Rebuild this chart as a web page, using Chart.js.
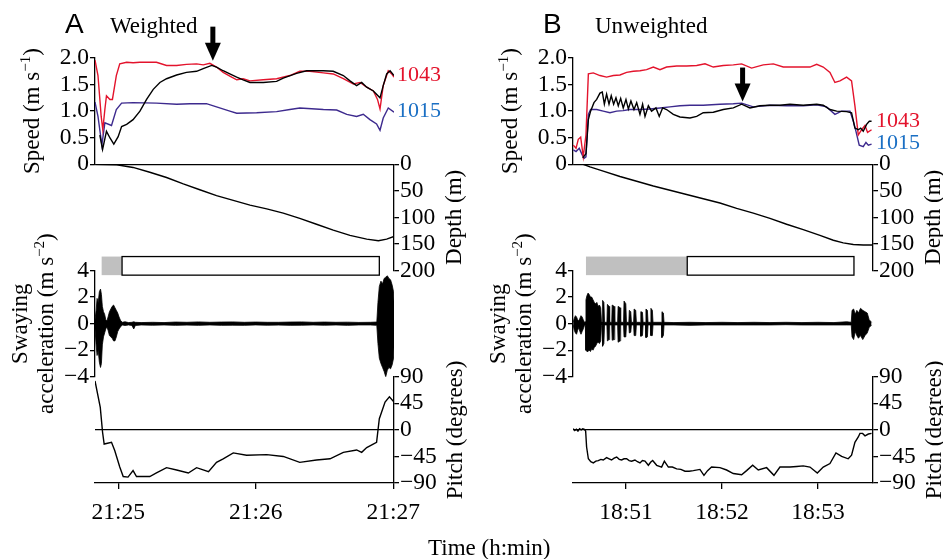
<!DOCTYPE html>
<html>
<head>
<meta charset="utf-8">
<script src="https://cdn.jsdelivr.net/npm/chart.js@4.4.1/dist/chart.umd.min.js"></script>
<style>
    html, body { margin: 0; padding: 0; background: #fff; }
    #wrap { position: relative; width: 943px; height: 559px; overflow: hidden; }
    #chartA { position: absolute; left: 0; top: 0; }
    #chartB { position: absolute; left: 471px; top: 0; }
    #xtitle { position: absolute; left: 428px; top: 535px; font: 23px 'Liberation Serif', 'DejaVu Serif', serif; line-height: 26px; }
</style>
</head>
<body>
<div id="wrap">
    <canvas id="chartA" width="471" height="559"></canvas>
    <canvas id="chartB" width="472" height="559"></canvas>
    <div id="xtitle">Time (h:min)</div>
</div>
<script>
/**
 * Speed, depth, swaying acceleration and pitch of a weighted and an
 * unweighted dive. Times are seconds from 21:25:00 (A) and 18:51:00 (B).
 */

// ---- shared tick values ----
const speedTicks = [0, 0.5, 1, 1.5, 2];
const depthTicks = [0, 50, 100, 150, 200];
const swayTicks = [-4, -2, 0, 2, 4];
const pitchTicks = [-90, -45, 0, 45, 90];
const timeTicks = [0, 60, 120];
const seriesNames = ['1043', '1015'];

// ---- A: weighted ----
const tBlackA = [-8.0, -6.8, -5.1, -3.5, -1.9, 0, 1.5, 3.7, 6.5, 9.5,
    12.4, 15.3, 18.2, 21.1, 25.5, 29.8, 34.2, 37.1, 40.8, 42.9,
    45.8, 48.7, 51.7, 54.5, 57.5, 63.3, 69.1, 72.0, 77.8, 82.2,
    89.5, 93.8, 98.2, 101.1, 104.0, 106.2, 108.4, 111.3, 114.2, 115.6,
    117.1, 118.6, 120.3];
const speedBlackA = [0.55, 0.28, 0.62, 0.49, 0.38, 0.52, 0.71, 0.75, 0.84, 1.00,
    1.22, 1.41, 1.54, 1.61, 1.68, 1.73, 1.75, 1.80, 1.86, 1.83,
    1.76, 1.70, 1.64, 1.59, 1.54, 1.54, 1.56, 1.62, 1.71, 1.76,
    1.76, 1.75, 1.67, 1.57, 1.48, 1.54, 1.45, 1.38, 1.25, 1.48,
    1.70, 1.76, 1.67];

const tRedA = [-10.1, -8.8, -7.4, -6.7, -5.8, -5.1, -3.6, -2.5, -0.8, 0.7,
    3.7, 6.5, 9.5, 12.4, 16.7, 21.1, 25.5, 29.8, 34.2, 37.1,
    40.0, 42.9, 45.8, 48.7, 51.7, 54.5, 57.5, 63.3, 69.1, 74.9,
    79.2, 83.6, 89.5, 93.8, 98.2, 102.6, 105.5, 108.4, 111.3, 113.1,
    114.2, 115.6, 117.8, 119.3, 120.3];
const speedRedA = [1.96, 1.67, 0.90, 0.65, 1.03, 1.29, 1.22, 1.22, 1.67, 1.89,
    1.92, 1.91, 1.92, 1.92, 1.92, 1.86, 1.86, 1.88, 1.89, 1.87,
    1.90, 1.83, 1.73, 1.66, 1.59, 1.61, 1.57, 1.59, 1.61, 1.67,
    1.75, 1.75, 1.72, 1.70, 1.61, 1.51, 1.54, 1.45, 1.38, 1.22,
    1.04, 1.48, 1.76, 1.70, 1.64];

const tBlueA = [-10.1, -8.8, -7.1, -5.8, -2.9, -0.8, 1.5, 6.5, 16.7, 25.5,
    31.3, 38.5, 42.9, 48.7, 51.7, 60.4, 69.1, 74.9, 79.2, 89.5,
    95.3, 99.7, 104.0, 106.9, 109.8, 112.7, 114.2, 115.6, 117.8, 120.3];
const speedBlueA = [1.17, 0.90, 0.36, 0.78, 0.73, 1.03, 1.15, 1.16, 1.15, 1.13,
    1.14, 1.14, 1.08, 1.00, 0.96, 0.97, 0.99, 1.03, 1.06, 1.03,
    1.02, 0.94, 0.90, 0.94, 0.84, 0.76, 0.64, 0.87, 1.06, 0.98];

const tDepthA = [-10.1, -0.6, 6.5, 13.8, 21.1, 28.4, 35.6, 42.9, 50.2, 57.5,
    64.8, 72.0, 79.2, 86.5, 93.8, 101.1, 108.4, 113.5, 117.1, 120.3];
const depthA = [0, 1, 6, 15, 25, 37, 48, 59, 68, 77,
    84, 92, 102, 113, 124, 134, 141, 144, 141, 136];

// swaying acceleration, upper and lower envelope
const tSwayA = [-10.1, -9.6, -9.2, -8.7, -8.2, -7.7, -7.3, -6.9, -6.4, -5.9,
    -5.4, -4.9, -4.4, -3.8, -3.2, -2.6, -2.0, -1.4, -0.8, -0.2,
    0.4, 1.0, 1.8, 3.0, 4.5, 6.0, 6.8, 7.5, 10, 15,
    20, 25, 30, 35, 40, 45, 50, 55, 60, 65,
    70, 75, 80, 85, 90, 95, 100, 105, 110, 112.8,
    113.3, 113.9, 114.6, 115.3, 116.0, 116.7, 117.4, 118.1, 118.8, 119.5,
    120.1, 120.5];
const swayMaxA = [0.3, 1.0, 1.9, 1.6, 2.4, 2.6, 2.2, 1.3, 0.9, 0.7,
    0.3, 0.2, 0.5, 0.9, 1.1, 1.3, 1.4, 1.2, 1.0, 0.8,
    0.5, 0.25, 0.1, 0.14, 0.08, 0.1, 0.14, 0.1, 0.08, 0.1,
    0.08, 0.12, 0.1, 0.13, 0.1, 0.12, 0.13, 0.1, 0.12, 0.1,
    0.1, 0.12, 0.13, 0.1, 0.12, 0.1, 0.11, 0.09, 0.1, 0.12,
    1.6, 2.8, 3.2, 3.0, 3.4, 3.5, 3.6, 3.4, 3.3, 2.9,
    2.4, 1.0];
const swayMinA = [-0.4, -1.6, -2.4, -2.0, -2.9, -3.3, -3.0, -1.6, -1.0, -0.7,
    -0.4, -0.25, -0.5, -0.9, -1.0, -1.1, -1.3, -1.3, -1.0, -0.6,
    -0.4, -0.25, -0.1, -0.14, -0.1, -0.14, -0.4, -0.14, -0.1, -0.12,
    -0.1, -0.13, -0.11, -0.13, -0.1, -0.13, -0.12, -0.13, -0.1, -0.12,
    -0.11, -0.13, -0.12, -0.1, -0.12, -0.1, -0.13, -0.1, -0.1, -0.13,
    -1.5, -2.6, -3.0, -3.3, -3.6, -4.0, -3.5, -3.3, -3.4, -3.1,
    -2.6, -1.0];

const tPitchA = [-10.1, -7.8, -6.8, -6.1, -2.9, -1.5, 0.7, 2.2, 4.3, 6.5,
    8.0, 13.8, 16.7, 21.1, 25.5, 30.6, 34.2, 39.4, 42.9, 45.8,
    50.2, 56.0, 64.8, 72.0, 79.2, 86.5, 92.4, 98.2, 104.0, 106.2,
    108.4, 112.7, 113.9, 116.4, 118.3, 120.3];
const pitchA = [83, 38, -4, -24, -21, -35, -63, -79, -80, -69,
    -79, -79, -73, -64, -68, -73, -64, -71, -55, -49,
    -39, -43, -42, -45, -55, -51, -49, -38, -34, -38,
    -30, -21, 19, 47, 56, 47];

const phasesA = [[-7.2, 1.7], [1.7, 113.9]];
const arrowA = [41.3, 1.95];          // time, speed at arrow tip
const nameSpeedA = [1.67, 1.00];      // speeds where the tag names sit

// ---- B: unweighted ----
const tBlackB = [-27.0, -25.0, -23.5, -22.1, -20.0, -18.3, -16.25, -14.8, -13.5, -12.1,
    -10.6, -9.2, -7.7, -6.25, -4.8, -3.3, -1.7, 0, 1.5, 3.1,
    5.0, 6.7, 8.75, 10.4, 11.9, 14.0, 16.0, 18.75, 20.8, 22.9,
    25.4, 29.6, 33.75, 40.0, 44.2, 48.3, 54.6, 60.8, 67.1, 72.3,
    77.5, 83.75, 90.0, 96.25, 102.5, 110.8, 119.2, 123.3, 127.5, 131.7,
    137.9, 141.0, 143.1, 145.2, 146.7, 148.3, 150.4, 152.1, 153.5];
const speedBlackB = [0.12, 0.20, 0.84, 1.00, 1.16, 1.22, 1.34, 1.36, 1.13, 1.32,
    1.13, 1.29, 1.13, 1.25, 1.10, 1.24, 1.06, 1.22, 1.04, 1.19,
    1.03, 1.16, 0.94, 1.13, 0.90, 1.10, 1.00, 1.06, 0.90, 1.06,
    1.03, 0.94, 0.89, 0.87, 0.90, 0.97, 0.98, 1.03, 1.06, 1.13,
    1.06, 1.10, 1.11, 1.11, 1.13, 1.11, 1.13, 1.11, 1.03, 1.00,
    0.99, 0.97, 0.68, 0.65, 0.68, 0.62, 0.75, 0.81, 0.81];

const tRedB = [-32.9, -31.2, -29.8, -28.3, -26.7, -25.0, -23.5, -20.4, -16.25, -12.1,
    -7.9, -3.75, 0.4, 4.6, 8.75, 12.9, 17.1, 21.25, 25.4, 31.7,
    37.9, 44.2, 49.4, 54.6, 60.8, 67.1, 72.3, 78.5, 85.8, 92.1,
    98.3, 106.7, 115.0, 119.2, 123.3, 127.5, 130.6, 133.75, 137.9, 141.0,
    143.1, 145.2, 147.3, 149.4, 151.0, 153.5];
const speedRedB = [0.36, 0.30, 0.47, 0.51, 0.14, 0.55, 1.70, 1.72, 1.67, 1.64,
    1.67, 1.68, 1.73, 1.75, 1.76, 1.78, 1.83, 1.78, 1.83, 1.85,
    1.85, 1.86, 1.89, 1.83, 1.86, 1.87, 1.89, 1.81, 1.87, 1.89,
    1.83, 1.83, 1.83, 1.88, 1.83, 1.73, 1.54, 1.57, 1.64, 1.57,
    1.10, 0.55, 0.65, 0.73, 0.60, 0.65];

const tBlueB = [-32.9, -31.2, -29.2, -27.7, -26.25, -25.0, -23.5, -22.1, -18.3, -14.2,
    -10.0, -5.8, -1.7, 2.5, 8.75, 15.0, 21.25, 27.5, 33.75, 40.0,
    48.3, 58.75, 67.1, 72.3, 79.6, 90.0, 100.4, 110.8, 119.2, 125.4,
    130.6, 134.8, 140.0, 142.1, 143.75, 145.8, 148.3, 150.0, 151.5, 153.5];
const speedBlueB = [0.27, 0.24, 0.30, 0.20, 0.11, 0.14, 0.94, 1.03, 1.03, 1.00,
    0.97, 1.00, 1.01, 1.03, 1.03, 1.04, 1.06, 1.08, 1.10, 1.11,
    1.11, 1.13, 1.14, 1.15, 1.08, 1.11, 1.10, 1.10, 1.12, 1.08,
    0.94, 1.00, 1.00, 0.81, 0.62, 0.36, 0.33, 0.41, 0.36, 0.38];

const tDepthB = [-33, -26.7, -22.5, -14.2, -3.75, 6.7, 17.1, 27.5, 37.9, 48.3,
    58.75, 69.2, 79.6, 90.0, 100.4, 110.8, 121.25, 129.6, 135.8, 142.1,
    148.3, 154.4];
const depthB = [0, 0, 5, 13, 23, 32, 41, 49, 57, 65,
    73, 83, 92, 102, 113, 123, 134, 143, 148, 151,
    152, 152];

const tSwayB = [-33, -32.3, -31.6, -30.9, -30.2, -29.5, -28.8, -28.1, -27.4, -26.7,
    -26.0, -25.4, -25.0, -24.4, -23.7, -23.0, -22.2, -21.4, -20.6, -19.8,
    -19.0, -18.2, -17.4, -16.6, -15.8, -15.3, -14.9, -14.6, -13.8, -13.4,
    -11.9, -11.6, -10.6, -10.2, -8.9, -8.6, -7.4, -7.0, -5.2, -4.9,
    -3.7, -3.3, -1.5, -1.2, -0.1, 0.3, 1.8, 2.1, 3.0, 3.4,
    4.8, 5.1, 6.1, 6.5, 9.0, 9.3, 10.3, 10.7, 12.2, 12.5,
    13.4, 13.8, 15.3, 15.6, 16.5, 16.9, 22.2, 22.5, 23.4, 23.8,
    30, 40, 50, 60, 70, 80, 90, 100, 110, 120,
    130, 138, 140.8, 141.3, 142.3, 143.3, 144.3, 145.3, 146.6, 148.0,
    149.4, 150.8, 152.0, 153.5];
const swayMaxB = [0.1, 0.4, 0.6, 0.5, 0.3, 0.2, 0.4, 0.6, 0.5, 0.3,
    0.1, 0.15, 1.8, 2.1, 2.3, 2.2, 2.0, 2.0, 1.8, 1.6,
    1.5, 1.6, 1.3, 1.4, 1.2, 0.15, 0.15, 1.75, 1.6, 0.1,
    0.1, 1.45, 1.3, 0.1, 0.1, 1.4, 1.3, 0.1, 0.1, 1.3,
    1.2, 0.1, 0.1, 1.7, 1.5, 0.1, 0.1, 1.0, 0.9, 0.1,
    0.1, 1.1, 1.0, 0.1, 0.1, 0.9, 0.85, 0.1, 0.1, 1.1,
    1.0, 0.1, 0.1, 1.15, 1.0, 0.1, 0.1, 0.9, 0.8, 0.1,
    0.08, 0.1, 0.08, 0.1, 0.08, 0.1, 0.08, 0.1, 0.08, 0.1,
    0.08, 0.14, 0.1, 1.0, 1.1, 0.7, 1.0, 0.8, 1.15, 1.0,
    0.9, 0.8, 0.3, 0.1];
const swayMinB = [-0.1, -0.5, -0.7, -0.8, -0.5, -0.3, -0.6, -0.8, -0.6, -0.4,
    -0.15, -0.15, -2.0, -2.1, -2.1, -2.0, -2.1, -1.9, -2.0, -1.8,
    -1.7, -1.5, -1.4, -1.5, -1.3, -0.15, -0.15, -1.7, -1.5, -0.1,
    -0.1, -1.3, -1.2, -0.1, -0.1, -1.25, -1.2, -0.1, -0.1, -1.4,
    -1.3, -0.1, -0.1, -1.0, -1.0, -0.1, -0.1, -0.7, -0.65, -0.1,
    -0.1, -0.9, -0.9, -0.1, -0.1, -0.95, -0.9, -0.1, -0.1, -1.05,
    -1.0, -0.1, -0.1, -0.9, -0.9, -0.1, -0.1, -1.05, -0.9, -0.1,
    -0.1, -0.13, -0.1, -0.1, -0.1, -0.1, -0.1, -0.08, -0.1, -0.1,
    -0.1, -0.1, -0.1, -1.0, -1.2, -0.6, -0.9, -1.1, -0.9, -1.2,
    -0.9, -0.7, -0.3, -0.1];

const tPitchB = [-33, -32, -31, -30, -29, -28, -27, -26, -25.2, -24.6,
    -23.5, -22, -20.4, -18.8, -17.3, -15.7, -14.2, -12.1, -10.5, -9,
    -7.4, -5.8, -4.2, -2.7, -1.2, 0.4, 2, 3.5, 5.6, 7.2,
    8.75, 10.3, 11.9, 14.0, 15.4, 16.7, 19.2, 22.3, 24.0, 26.5,
    29, 31.7, 34.3, 36.9, 39.5, 42.1, 46.25, 48.75, 51, 53.5,
    58.75, 62.9, 67.1, 72.3, 75.4, 79.2, 82.7, 87.9, 92.5, 96.25,
    102.5, 106.7, 110.8, 115, 119.6, 123.3, 127.5, 131.25, 134.8, 138.9,
    141, 143.1, 145.2, 146.25, 147.9, 149.4, 151.5, 153.5];
const pitchB = [2, -1, 1, -2, 2, 0, 2, 1, -2, -29,
    -49, -54, -56, -53, -52, -50, -51, -47, -49, -51,
    -48, -46, -50, -51, -49, -49, -52, -53, -51, -54,
    -56, -52, -53, -60, -55, -52, -60, -63, -53, -63,
    -63, -66, -67, -70, -70, -69, -67, -77, -69, -63,
    -64, -68, -74, -76, -69, -60, -68, -64, -77, -63,
    -63, -62, -61, -63, -73, -63, -57, -39, -45, -49,
    -43, -21, -12, -6, -6, -10, -7, -6];

const phasesB = [[-25.0, 38.3], [38.3, 142.5]];
const arrowB = [72.9, 1.18];
const nameSpeedB = [0.81, 0.40];

// ---- styling ----
const SERIF = "'Liberation Serif', 'DejaVu Serif', serif";
const TICK_FONT = { family: SERIF, size: 23.5 };
const RED = '#e3132c';
const BLUE_LINE = '#3d2a8e';
const BLUE_TEXT = '#1a6fc4';
const GREY = '#c0c0c0';
const AXIS_W = 1.3;

Chart.defaults.font.family = SERIF;
Chart.defaults.font.size = 23.5;
Chart.defaults.color = '#000';

function signed(v) {
    return v < 0 ? '\u2212' + Math.abs(v) : String(v);
}

function clockLabel(baseMin, t) {
    const m = baseMin + Math.round(t / 60);
    return Math.floor(m / 60) + ':' + String(m % 60).padStart(2, '0');
}

/**
 * A y axis taking one quarter of the plot height
 */
function yScale(position, weight, min, max, ticks, fmt, zeroLine, width) {
    return {
        type: 'linear', position: position, stack: 'rows', stackWeight: 1, weight: weight,
        min: min, max: max,
        afterBuildTicks: s => { s.ticks = ticks.map(v => ({ value: v })); },
        afterFit: s => { s.width = width; },
        ticks: { callback: v => fmt(v), padding: 1, autoSkip: false, font: TICK_FONT },
        grid: {
            drawOnChartArea: zeroLine,
            color: c => (c.tick && c.tick.value === 0) ? '#000' : 'rgba(0,0,0,0)',
            tickColor: '#000', tickLength: 5, lineWidth: AXIS_W
        },
        border: { color: '#000', width: AXIS_W }
    };
}

// empty quarter that only keeps the stack in order
function blank(position, weight, width) {
    return {
        type: 'linear', position: position, stack: 'rows', stackWeight: 1, weight: weight,
        min: 0, max: 1,
        afterFit: s => { s.width = width; },
        ticks: { display: false },
        grid: { display: false },
        border: { display: false }
    };
}

// vertical text read from bottom to top, with optional superscripts
function drawVertical(ctx, parts, cx, cy) {
    ctx.save();
    ctx.translate(cx, cy);
    ctx.rotate(-Math.PI / 2);
    ctx.textBaseline = 'middle';
    ctx.textAlign = 'left';
    let total = 0;
    const widths = parts.map(p => {
        ctx.font = (p.sup ? '15px ' : '23px ') + SERIF;
        const w = ctx.measureText(p.t).width;
        total += w;
        return w;
    });
    let x = -total / 2;
    parts.forEach((p, i) => {
        ctx.font = (p.sup ? '15px ' : '23px ') + SERIF;
        ctx.fillText(p.t, x, p.sup ? -7 : 0);
        x += widths[i];
    });
    ctx.restore();
}

function extrasPlugin(p) {
    return {
        id: 'extras' + p.letter,
        afterDatasetsDraw(chart) {
            const ctx = chart.ctx;
            const area = chart.chartArea;
            const s = chart.scales;
            ctx.save();

            // phase bars
            const top = s.sway.getPixelForValue(5.05);
            const bot = s.sway.getPixelForValue(3.65);
            p.phases.forEach((ph, i) => {
                const x0 = s.x.getPixelForValue(ph[0]);
                const x1 = s.x.getPixelForValue(ph[1]);
                if (i === 0) {
                    ctx.fillStyle = GREY;
                    ctx.fillRect(x0, top, x1 - x0, bot - top);
                } else {
                    ctx.fillStyle = '#fff';
                    ctx.fillRect(x0, top, x1 - x0, bot - top);
                    ctx.strokeStyle = '#000';
                    ctx.lineWidth = AXIS_W;
                    ctx.strokeRect(x0, top, x1 - x0, bot - top);
                }
            });

            // arrow
            const ax = s.x.getPixelForValue(p.arrow[0]);
            const ay = s.speed.getPixelForValue(p.arrow[1]);
            ctx.fillStyle = '#000';
            ctx.fillRect(ax - 2.5, ay - 34, 5, 17);
            ctx.beginPath();
            ctx.moveTo(ax - 8, ay - 18);
            ctx.lineTo(ax + 8, ay - 18);
            ctx.lineTo(ax, ay);
            ctx.closePath();
            ctx.fill();

            // tag names at the right end of the speed traces
            ctx.font = '22px ' + SERIF;
            ctx.textBaseline = 'middle';
            ctx.textAlign = 'left';
            ctx.fillStyle = RED;
            ctx.fillText(seriesNames[0], area.right + 3, s.speed.getPixelForValue(p.nameSpeed[0]));
            ctx.fillStyle = BLUE_TEXT;
            ctx.fillText(seriesNames[1], area.right + 3, s.speed.getPixelForValue(p.nameSpeed[1]));

            // axis titles
            ctx.fillStyle = '#000';
            const mid = sc => (sc.top + sc.bottom) / 2;
            drawVertical(ctx, [{ t: 'Speed (m s' }, { t: '\u22121', sup: true }, { t: ')' }], area.left - 62, mid(s.speed));
            drawVertical(ctx, [{ t: 'Swaying' }], area.left - 74, mid(s.sway));
            drawVertical(ctx, [{ t: 'acceleration (m s' }, { t: '\u22122', sup: true }, { t: ')' }], area.left - 48, mid(s.sway));
            drawVertical(ctx, [{ t: 'Depth (m)' }], area.right + 61, mid(s.depth));
            drawVertical(ctx, [{ t: p.pitchTitle }], area.right + 62, mid(s.pitch));

            // panel heading
            ctx.textBaseline = 'alphabetic';
            ctx.font = "28px 'Liberation Sans', Arial, sans-serif";
            ctx.fillText(p.letter, p.letterX, 33);
            ctx.font = '23px ' + SERIF;
            ctx.fillText(p.heading, p.headingX, 33);
            ctx.restore();
        }
    };
}

function series(times, vals, color, axis, extra) {
    return Object.assign({
        data: times.map((t, i) => ({ x: t, y: vals[i] })),
        borderColor: color, backgroundColor: color, borderWidth: 1.4,
        yAxisID: axis, fill: false, pointRadius: 0, tension: 0
    }, extra || {});
}

/**
 * One panel: speed, depth, swaying acceleration and pitch stacked in quarters
 */
function createPanel(p) {
    const ctx = document.getElementById(p.canvas).getContext('2d');
    return new Chart(ctx, {
        type: 'line',
        data: {
            datasets: [
                series(p.black[0], p.black[1], '#000', 'speed'),
                series(p.red[0], p.red[1], RED, 'speed'),
                series(p.blue[0], p.blue[1], BLUE_LINE, 'speed'),
                series(p.depth[0], p.depth[1], '#000', 'depth'),
                series(p.sway[0], p.sway[1], '#000', 'sway', { borderWidth: 0.8, fill: '+1' }),
                series(p.sway[0], p.sway[2], '#000', 'sway', { borderWidth: 0.8 }),
                series(p.pitch[0], p.pitch[1], '#000', 'pitch')
            ]
        },
        options: {
            responsive: false,
            animation: false,
            layout: { padding: { top: 58, left: 0, right: 0, bottom: 0 } },
            plugins: { legend: { display: false }, tooltip: { enabled: false } },
            scales: {
                x: {
                    type: 'linear', position: 'bottom', min: p.xMin, max: p.xMax,
                    afterBuildTicks: s => { s.ticks = timeTicks.map(v => ({ value: v })); },
                    afterFit: s => { s.height = 76; },
                    ticks: { callback: v => clockLabel(p.baseMin, v), padding: 10, maxRotation: 0, autoSkip: false, font: TICK_FONT },
                    grid: { drawOnChartArea: false, tickLength: 6, tickColor: '#000', lineWidth: AXIS_W },
                    border: { color: '#000', width: AXIS_W }
                },
                speed: yScale('left', 4, 0, 2, speedTicks, v => v === 0 ? '0' : v.toFixed(1), true, p.leftWidth),
                gapL1: blank('left', 3, p.leftWidth),
                sway: yScale('left', 2, -4, 4, swayTicks, signed, false, p.leftWidth),
                gapL2: blank('left', 1, p.leftWidth),
                gapR1: blank('right', 1, p.rightWidth),
                depth: Object.assign(yScale('right', 2, 0, 200, depthTicks, String, false, p.rightWidth), { reverse: true }),
                gapR2: blank('right', 3, p.rightWidth),
                pitch: yScale('right', 4, -90, 90, pitchTicks, signed, true, p.rightWidth)
            }
        },
        plugins: [extrasPlugin(p)]
    });
}

window.addEventListener('load', function() {
    createPanel({
        canvas: 'chartA', letter: 'A', letterX: 65, heading: 'Weighted', headingX: 110,
        pitchTitle: 'Pitch (degrees)',
        baseMin: 21 * 60 + 25, xMin: -10.1, xMax: 120.3, leftWidth: 95, rightWidth: 77,
        black: [tBlackA, speedBlackA], red: [tRedA, speedRedA], blue: [tBlueA, speedBlueA],
        depth: [tDepthA, depthA], sway: [tSwayA, swayMaxA, swayMinA], pitch: [tPitchA, pitchA],
        phases: phasesA, arrow: arrowA, nameSpeed: nameSpeedA
    });
    createPanel({
        canvas: 'chartB', letter: 'B', letterX: 72, heading: 'Unweighted', headingX: 124,
        pitchTitle: 'Pitch (degrees)',
        baseMin: 18 * 60 + 51, xMin: -33.1, xMax: 154.4, leftWidth: 102, rightWidth: 70,
        black: [tBlackB, speedBlackB], red: [tRedB, speedRedB], blue: [tBlueB, speedBlueB],
        depth: [tDepthB, depthB], sway: [tSwayB, swayMaxB, swayMinB], pitch: [tPitchB, pitchB],
        phases: phasesB, arrow: arrowB, nameSpeed: nameSpeedB
    });
});
</script>
</body>
</html>
